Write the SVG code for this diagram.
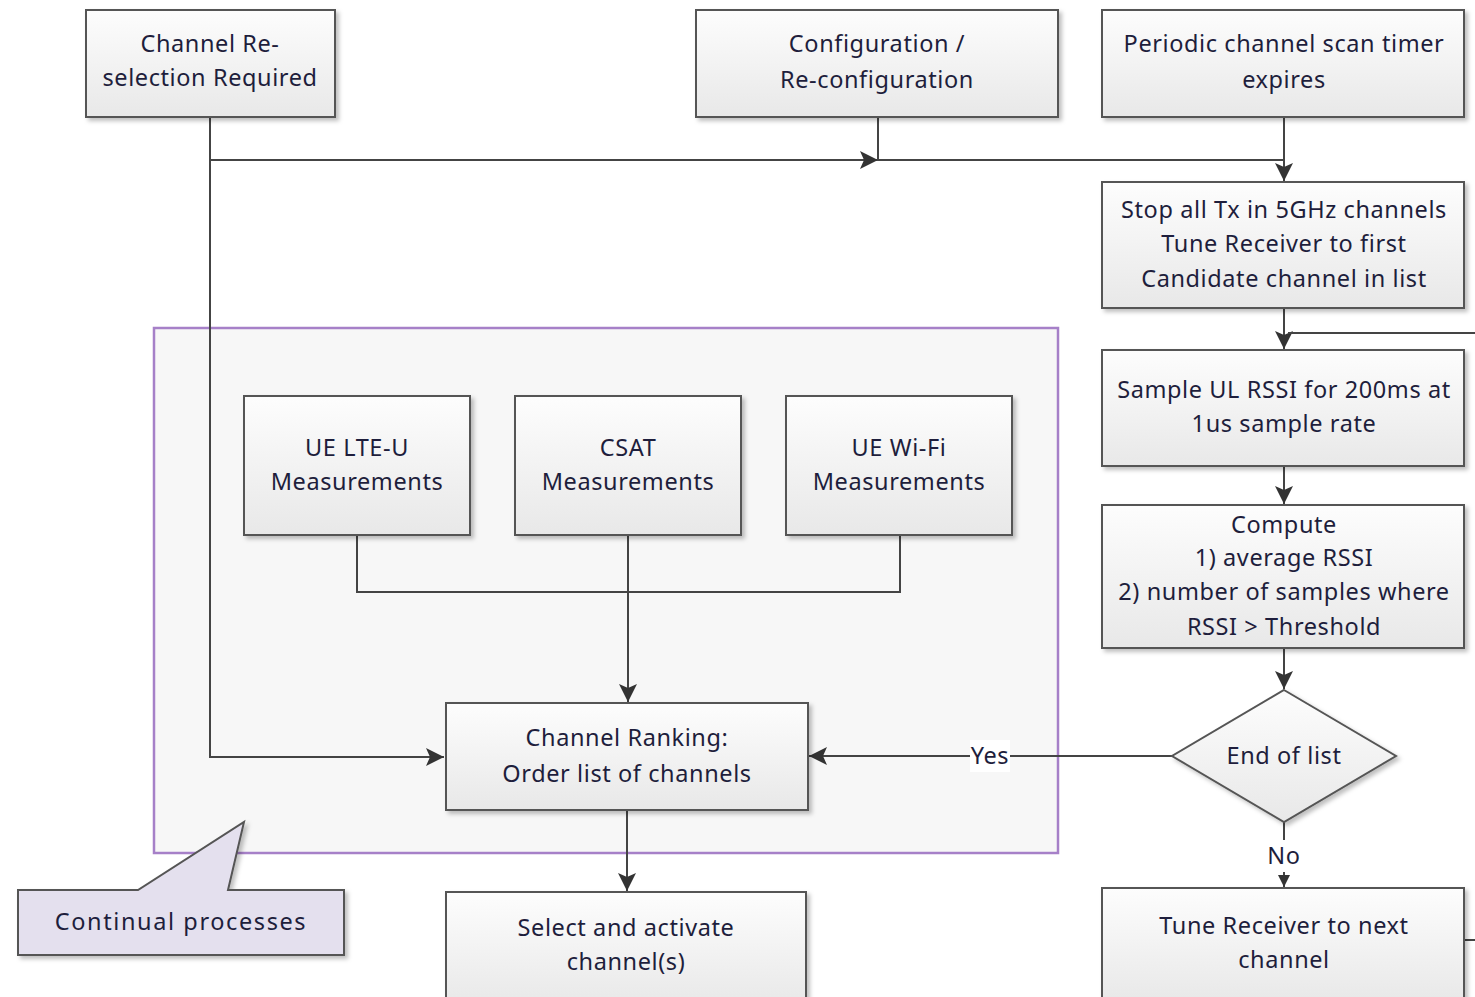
<svg xmlns="http://www.w3.org/2000/svg" width="1475" height="997" viewBox="0 0 1475 997">
<defs>
<linearGradient id="g" x1="0" y1="0" x2="0" y2="1"><stop offset="0" stop-color="#fdfdfd"/><stop offset="1" stop-color="#e8e8e8"/></linearGradient>
<filter id="sh" x="-5%" y="-5%" width="115%" height="120%"><feDropShadow dx="3" dy="3" stdDeviation="2" flood-color="#000" flood-opacity="0.25"/></filter>
<marker id="ar" markerWidth="20" markerHeight="20" refX="18" refY="9" orient="auto" markerUnits="userSpaceOnUse"><path d="M0,0 L18,9 L0,18 L4,9 Z" fill="#333"/></marker>
<marker id="ars" markerWidth="14" markerHeight="14" refX="12" refY="6" orient="auto" markerUnits="userSpaceOnUse"><path d="M0,0 L12,6 L0,12 Z" fill="#333"/></marker>
</defs>
<style>
.box{fill:url(#g);stroke:#555;stroke-width:2;filter:url(#sh)}
.t{font-family:"Noto Sans","Open Sans",sans-serif;font-size:23.5px;letter-spacing:0.6px;fill:#1e1e3c;text-anchor:middle}
.c{fill:none;stroke:#444;stroke-width:2}
</style>
<rect width="1475" height="997" fill="#fff"/>
<g id="container"><rect x="154" y="328" width="904" height="525" fill="#f7f7f7" stroke="#a680c8" stroke-width="2.5"/></g>

<g id="connectors">
<path class="c" d="M210,117 V757 H444" marker-end="url(#ar)"/>
<path class="c" d="M210,160 H876"/>
<path class="c" d="M860,160 H878" marker-end="url(#ar)"/>
<path class="c" d="M878,117 V160 H1284"/>
<path class="c" d="M1284,117 V181" marker-end="url(#ar)"/>
<path class="c" d="M1284,308 V349" marker-end="url(#ar)"/>
<path class="c" d="M1464,940 H1495 V333 H1288"/>
<path class="c" d="M1284,466 V504" marker-end="url(#ar)"/>
<path class="c" d="M1284,648 V689" marker-end="url(#ar)"/>
<path class="c" d="M1172,756 H809" marker-end="url(#ar)"/>
<path class="c" d="M1284,822 V840"/>
<path class="c" d="M1284,872 V887" marker-end="url(#ars)"/>
<path class="c" d="M357,535 V592 H900 V535"/>
<path class="c" d="M628,535 V702" marker-end="url(#ar)"/>
<path class="c" d="M627,810 V891" marker-end="url(#ar)"/>
<rect x="970" y="740" width="40" height="32" fill="#fff"/>
<text class="t" x="990" y="764">Yes</text>
<text class="t" x="1284" y="864">No</text>
</g>

<g id="n1"><rect class="box" x="86" y="10" width="249" height="107"/><text class="t" x="210" y="52">Channel Re-</text><text class="t" x="210" y="86">selection Required</text></g>
<g id="n2"><rect class="box" x="696" y="10" width="362" height="107"/><text class="t" x="877" y="52">Configuration /</text><text class="t" x="877" y="88">Re-configuration</text></g>
<g id="n3"><rect class="box" x="1102" y="10" width="362" height="107"/><text class="t" x="1284" y="52">Periodic channel scan timer</text><text class="t" x="1284" y="88">expires</text></g>
<g id="n4"><rect class="box" x="1102" y="182" width="362" height="126"/><text class="t" x="1284" y="218">Stop all Tx in 5GHz channels</text><text class="t" x="1284" y="252">Tune Receiver to first</text><text class="t" x="1284" y="287">Candidate channel in list</text></g>
<g id="n5"><rect class="box" x="1102" y="350" width="362" height="116"/><text class="t" x="1284" y="398">Sample UL RSSI for 200ms at</text><text class="t" x="1284" y="432">1us sample rate</text></g>
<g id="n6"><rect class="box" x="1102" y="505" width="362" height="143"/><text class="t" x="1284" y="533">Compute</text><text class="t" x="1284" y="566">1) average RSSI</text><text class="t" x="1284" y="600">2) number of samples where</text><text class="t" x="1284" y="635">RSSI &gt; Threshold</text></g>
<g id="n7"><polygon class="box" points="1284,690 1396,756 1284,822 1172,756"/><text class="t" x="1284" y="764">End of list</text></g>
<g id="n8"><rect class="box" x="1102" y="888" width="362" height="115"/><text class="t" x="1284" y="934">Tune Receiver to next</text><text class="t" x="1284" y="968">channel</text></g>
<g id="n9"><rect class="box" x="244" y="396" width="226" height="139"/><text class="t" x="357" y="456">UE LTE-U</text><text class="t" x="357" y="490">Measurements</text></g>
<g id="n10"><rect class="box" x="515" y="396" width="226" height="139"/><text class="t" x="628" y="456">CSAT</text><text class="t" x="628" y="490">Measurements</text></g>
<g id="n11"><rect class="box" x="786" y="396" width="226" height="139"/><text class="t" x="899" y="456">UE Wi-Fi</text><text class="t" x="899" y="490">Measurements</text></g>
<g id="n12"><rect class="box" x="446" y="703" width="362" height="107"/><text class="t" x="627" y="746">Channel Ranking:</text><text class="t" x="627" y="782">Order list of channels</text></g>
<g id="n13"><rect class="box" x="446" y="892" width="360" height="115"/><text class="t" x="626" y="936">Select and activate</text><text class="t" x="626" y="970">channel(s)</text></g>
<g id="callout"><path d="M18,890 H138 L244,822 L228,890 H344 V955 H18 Z" fill="#e4e0ee" stroke="#555" stroke-width="2" filter="url(#sh)"/><text class="t" x="181" y="930" style="letter-spacing:1.6px">Continual processes</text></g>
</svg>
